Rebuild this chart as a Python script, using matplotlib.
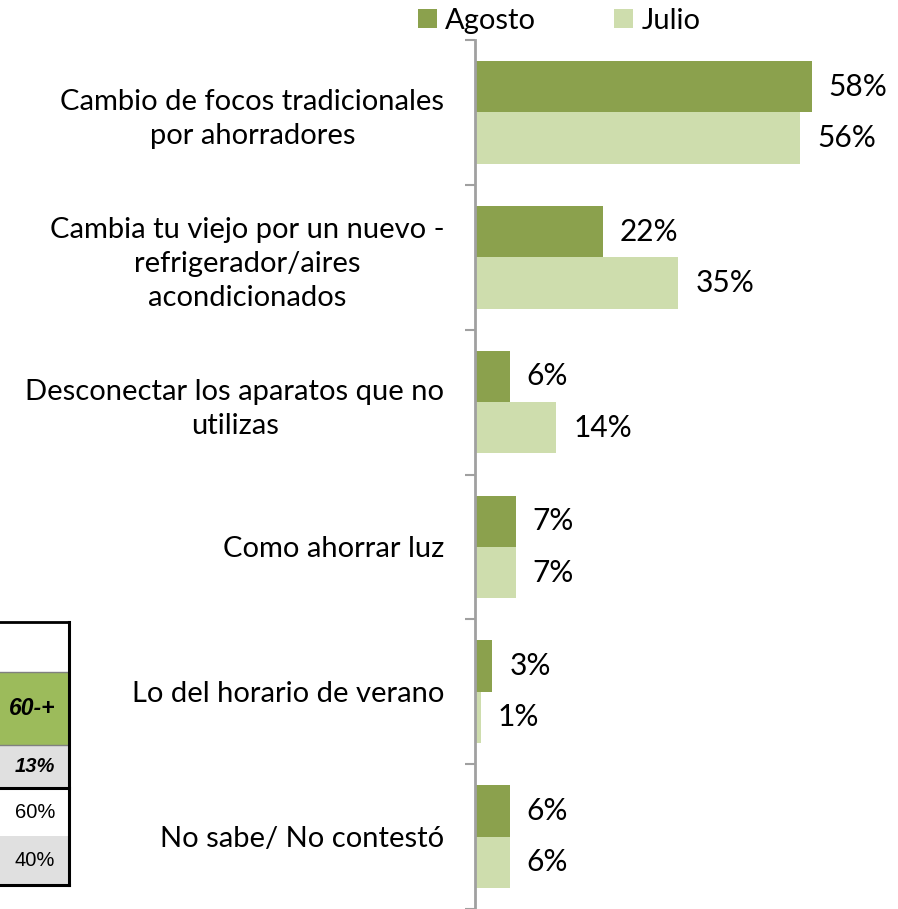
import matplotlib
matplotlib.use('Agg')
import matplotlib.pyplot as plt
from matplotlib.patches import Rectangle

plt.rc('font', family=['Lato', 'DejaVu Sans'])

categorias = ['Cambio de focos tradicionales\npor ahorradores',
              'Cambia tu viejo por un nuevo -\nrefrigerador/aires\nacondicionados',
              'Desconectar los aparatos que no\nutilizas',
              'Como ahorrar luz',
              'Lo del horario de verano',
              'No sabe/ No contestó']
agosto = [58, 22, 6, 7, 3, 6]
julio = [56, 35, 14, 7, 1, 6]

# pedazo de tabla que asoma a la izquierda
tabla_textos = ['', '60-+', '13%', '60%', '40%']

c_ago = '#8BA14D'
c_jul = '#CEDDAD'

W, H = 898, 909
fig = plt.figure(figsize=(W/100, H/100), dpi=100)
ax = fig.add_axes([475/W, 0, (W-475)/W, 1 - 40/H])

pos = list(range(len(categorias)))
h = 0.355
ax.barh([p - h/2 for p in pos], agosto, height=h, color=c_ago, label='Agosto')
ax.barh([p + h/2 for p in pos], julio, height=h, color=c_jul, label='Julio')

for p, a, j in zip(pos, agosto, julio):
    ax.text(a + 2.9, p - h/2, f'{a}%', va='center', ha='left', fontsize=21.5)
    ax.text(j + 2.9, p + h/2, f'{j}%', va='center', ha='left', fontsize=21.5)

ax.set_xlim(0, (W-475)/5.81)
ax.set_ylim(len(categorias) - 0.5, -0.5)
ax.set_yticks(pos)
ax.set_yticklabels(categorias, fontsize=21)
for t in ax.get_yticklabels():
    t.set_multialignment('center')
    t.set_linespacing(1.38)
ax.set_yticks([p - 0.5 for p in pos] + [len(pos) - 0.5], minor=True)
ax.tick_params(axis='y', which='major', length=0, pad=22)
ax.tick_params(axis='y', which='minor', length=7, width=1.5, color='#A0A0A0')
ax.set_xticks([])
for s in ['top', 'right', 'bottom']:
    ax.spines[s].set_visible(False)
ax.spines['left'].set_color('#A0A0A0')
ax.spines['left'].set_linewidth(2)

fig.legend(loc='upper left', bbox_to_anchor=(406/W, 1 + 4/H), ncol=2, frameon=False,
           fontsize=21, handlelength=0.65, handleheight=0.65, handletextpad=0.3,
           columnspacing=2.65, borderaxespad=0)

# tabla
def fx(x):
    return x / W

def fy(y):
    return 1 - y / H

filas = [(622, 672, 'white'), (672, 745, '#9CBB5B'), (745, 788, '#E0E0E0'),
         (788, 836, 'white'), (836, 885, '#E0E0E0')]
estilos = [None, ('bold', 'italic', 16.5), ('bold', 'italic', 14.5),
           ('normal', 'normal', 14.5), ('normal', 'normal', 14.5)]
for (y0, y1, col), txt, st in zip(filas, tabla_textos, estilos):
    fig.patches.append(Rectangle((0, fy(y1)), fx(69), fy(y0) - fy(y1),
                                 transform=fig.transFigure, facecolor=col,
                                 edgecolor='none'))
    if txt:
        fig.text(fx(55), fy((y0 + y1) / 2), txt, ha='right', va='center',
                 fontsize=st[2], fontweight=st[0], fontstyle=st[1],
                 family='Liberation Sans')
for y, lw, c in [(622, 2, 'black'), (672, 1, '#808080'), (745, 1, '#808080'),
                 (788, 2.2, 'black'), (885, 2.2, 'black')]:
    fig.add_artist(plt.Line2D([0, fx(69)], [fy(y), fy(y)], color=c, lw=lw,
                              transform=fig.transFigure))
fig.add_artist(plt.Line2D([fx(69), fx(69)], [fy(622), fy(885)], color='black',
                          lw=2.2, transform=fig.transFigure))

fig.savefig('out.png', dpi=100)
